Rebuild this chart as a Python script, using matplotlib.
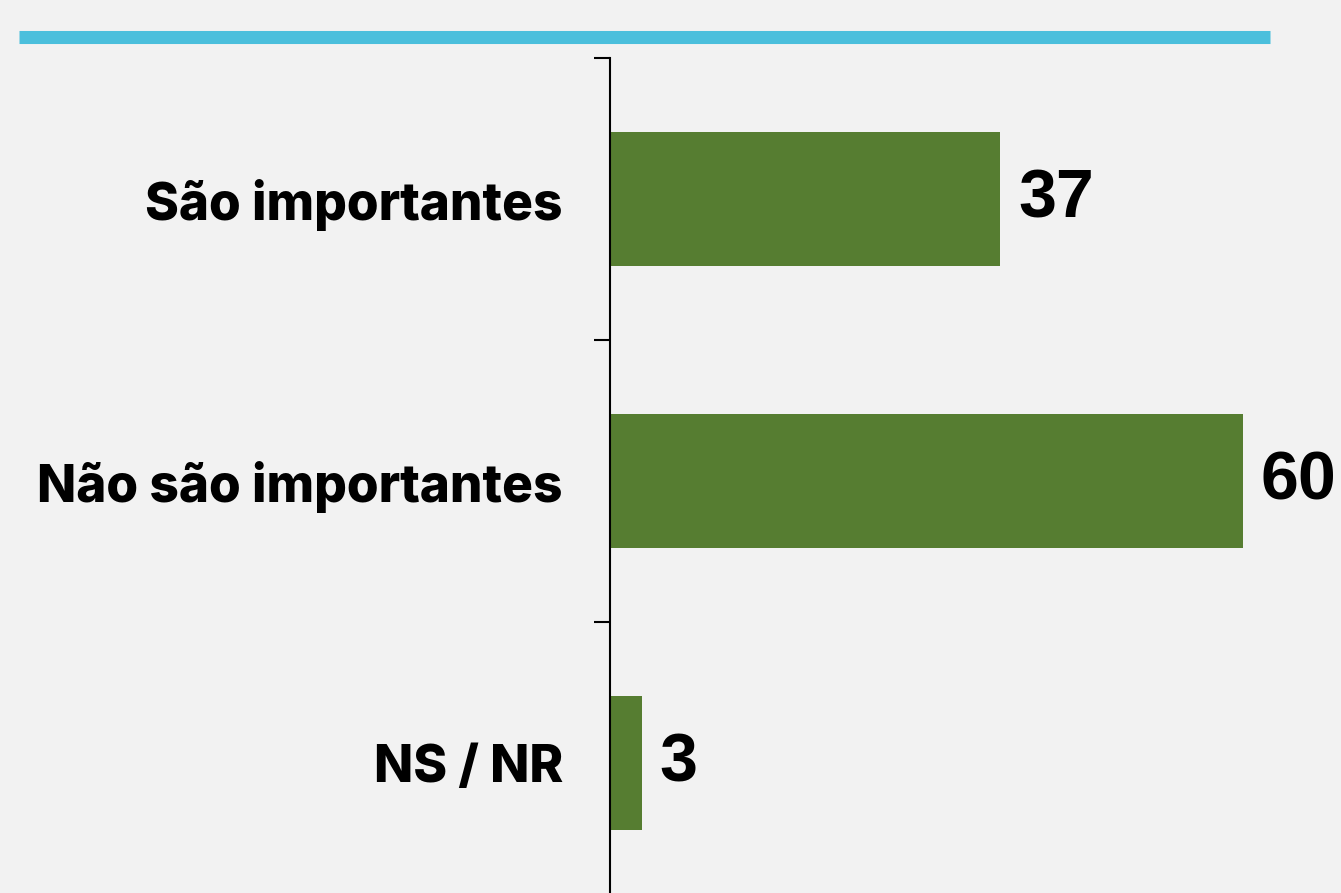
import matplotlib.pyplot as plt
from matplotlib.lines import Line2D

categories = ['São importantes', 'Não são importantes', 'NS / NR']
values = [37, 60, 3]

BG = '#f2f2f2'
GREEN = '#567d31'
CYAN = '#4bbfdc'

fig = plt.figure(figsize=(13.41, 8.93), dpi=100, facecolor=BG)
ax = fig.add_axes([610 / 1341, -0.01232, 633 / 1341, 0.94737])
ax.set_facecolor(BG)

pos = list(range(len(categories)))
ax.barh(pos, values, height=0.475, color=GREEN)
ax.set_ylim(len(categories) - 0.5, -0.5)
ax.set_xlim(0, 60)

for y, v in zip(pos, values):
    ax.text(v + 1.7, y, str(v), va='center', ha='left', fontsize=49,
            fontweight='bold', family='Liberation Sans', clip_on=False)

ax.set_yticks(pos)
ax.set_yticklabels(categories, fontsize=37, fontweight='heavy', family='Inter')
ax.tick_params(axis='y', which='major', length=0, pad=34)
ax.set_yticks([p - 0.5 for p in pos] + [len(pos) - 0.5], minor=True)
ax.tick_params(axis='y', which='minor', length=11.5, width=1.5)
ax.set_xticks([])

for s in ['top', 'right', 'bottom']:
    ax.spines[s].set_visible(False)
ax.spines['left'].set_linewidth(1.5)

fig.add_artist(Line2D([19 / 1341, 1270 / 1341], [1 - 36.5 / 893, 1 - 36.5 / 893],
                      transform=fig.transFigure, color=CYAN, linewidth=9.4,
                      solid_capstyle='butt'))

fig.savefig('out.png', dpi=100, facecolor=BG)
